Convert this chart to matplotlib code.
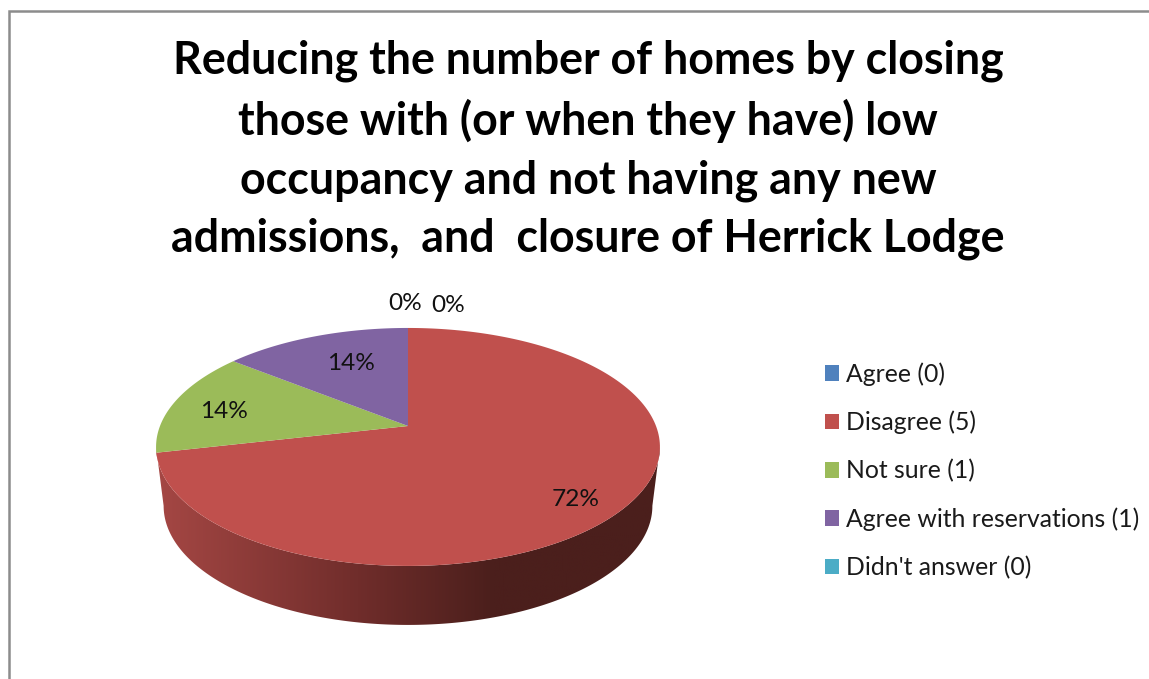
import numpy as np
from matplotlib import pyplot as plt
from matplotlib.patches import Polygon, Patch
from matplotlib.colors import LinearSegmentedColormap

# data
categories = ['Agree (0)', 'Disagree (5)', 'Not sure (1)', 'Agree with reservations (1)', "Didn't answer (0)"]
counts = [0, 5, 1, 1, 0]
pct_labels = ['0%', '72%', '14%', '14%', '0%']
colors = ['#4f81bd', '#c0504d', '#9bbb59', '#8064a2', '#4bacc6']
title = ('Reducing the number of homes by closing\n'
         'those with (or when they have) low\n'
         'occupancy and not having any new\n'
         'admissions,  and  closure of Herrick Lodge')

plt.rcParams['font.family'] = ['Lato', 'DejaVu Sans']

# pixel sized axes, y going down like the screenshot
fig = plt.figure(figsize=(11.49, 6.79), dpi=100)
ax = fig.add_axes([0, 0, 1, 1])
ax.set_xlim(0, 1149)
ax.set_ylim(679, 0)
ax.axis('off')

# chart frame, cut off at the right and bottom of the screenshot
ax.plot([9.2, 9.2, 1149], [679, 10.8, 10.8], color='#8c8c8c', lw=1.8, solid_joinstyle='miter')

ax.text(588, 150, title, ha='center', va='center', fontsize=32.2, fontweight='bold',
        color='black', linespacing=1.465)

# perspective of the pie: vertex pixel, squash and tilt
cx, cy = 408, 426
c = 0.176
depth = 59

def project(theta):
    # theta is clockwise from the top of the pie
    x = np.sin(theta)
    y = np.cos(theta)
    d = 1 + c * y
    return cx + 248 * x / d, cy - 115.3 * y / d

# side of the pie with a dark gradient, the bottom rim is a bit narrower
th = np.linspace(np.pi * 0.556, np.pi * 1.444, 300)
px, py = project(th)
bx = cx + (px - cx) * 0.97
side = np.column_stack([np.r_[px, bx[::-1]], np.r_[py, py[::-1] + depth]])
side_poly = Polygon(side, closed=True, fc='none', ec='none')
ax.add_patch(side_poly)
cmap = LinearSegmentedColormap.from_list('side', [(0, '#4b1f1c'), (0.33, '#4b1f1c'), (0.6, '#702d2b'), (1, '#a54744')])
grad = np.linspace(1, 0, 256).reshape(1, -1)
im = ax.imshow(grad, extent=[156, 660, 640, 430], cmap=cmap, aspect='auto', vmin=0, vmax=1, zorder=1)
im.set_clip_path(side_poly)
ax.set_xlim(0, 1149)
ax.set_ylim(679, 0)

# top of the pie, slices run clockwise from 12 o'clock
fracs = np.array(counts) / sum(counts)
edges = np.r_[0, np.cumsum(fracs)] * 2 * np.pi
for i in range(len(counts)):
    if counts[i] == 0:
        continue
    t = np.linspace(edges[i], edges[i + 1], 200)
    rx, ry = project(t)
    pts = np.column_stack([np.r_[cx, rx], np.r_[cy, ry]])
    ax.add_patch(Polygon(pts, closed=True, fc=colors[i], ec='none', zorder=2))

# data labels
label_pos = [(405, 304), (576, 500), (224, 412), (351, 363), (448, 305)]
for lab, (lx, ly) in zip(pct_labels, label_pos):
    ax.text(lx, ly, lab, ha='center', va='center', fontsize=17.6, color='#111111', zorder=3)

# legend
handles = [Patch(fc=col, ec='none') for col in colors]
leg = ax.legend(handles, categories, loc='upper left', bbox_to_anchor=(825 / 1149, 1 - 362 / 679),
                frameon=False, fontsize=17.8, labelspacing=1.01, handlelength=0.57, handleheight=0.6,
                handletextpad=0.28, borderpad=0, borderaxespad=0, labelcolor='#1a1a1a')

plt.savefig('out.png', dpi=100)
